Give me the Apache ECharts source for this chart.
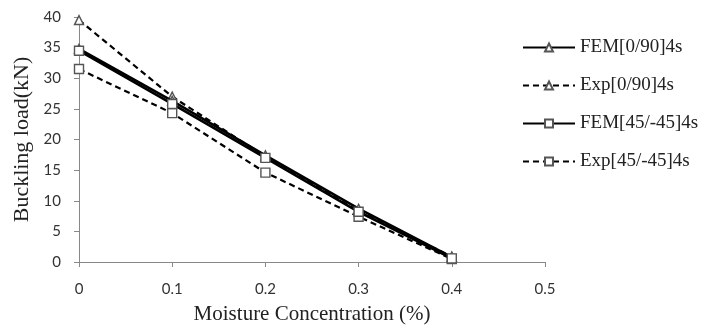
<!DOCTYPE html>
<html><head><meta charset="utf-8">
<script src="https://cdn.jsdelivr.net/npm/echarts@6/dist/echarts.min.js"></script>
<style>html,body{margin:0;padding:0;background:#fff}#c{width:705px;height:333px}</style>
</head><body><div id="c"></div>
<script>
const xValues = [0, 0.1, 0.2, 0.3, 0.4];
const fem090 = [34.8, 26.3, 17.4, 8.7, 0.8];
const exp090 = [39.5, 27.0, 17.2, 8.3, 0.9];
const fem45 = [34.5, 25.8, 17.0, 8.2, 0.6];
const exp45 = [31.5, 24.3, 14.6, 7.4, 0.5];
const seriesNames = ['FEM[0/90]4s', 'Exp[0/90]4s', 'FEM[45/-45]4s', 'Exp[45/-45]4s'];

function pts(arr){ return xValues.map((x,i)=>[x, arr[i]]); }
function mk(name, data, sym, dashed){
  return {
    name, type:'line', data: pts(data), symbol: sym, symbolSize: 9,
    showSymbol:true,
    lineStyle:{color:'#000', width: dashed?2.2:2.6, type: dashed?[6,4]:'solid'},
    itemStyle:{color:'#fff', borderColor:'#555', borderWidth:1.4},
    z: dashed?2:3
  };
}
const chart = echarts.init(document.getElementById('c'));
chart.setOption({
  animation:false,
  grid:{left:79, right:160, top:17, bottom:71},
  xAxis:{type:'value', min:0, max:0.5, interval:0.1,
    name:'Moisture Concentration (%)', nameLocation:'middle', nameGap:42, nameMoveOverlap:false,
    nameTextStyle:{fontFamily:'Liberation Serif', fontSize:21, color:'#222'},
    axisLine:{lineStyle:{color:'#888'}}, axisTick:{show:true, length:5, lineStyle:{color:'#888'}},
    axisLabel:{fontFamily:'Lato', fontSize:15, color:'#333', margin:20},
    splitLine:{show:false}},
  yAxis:{type:'value', min:0, max:40, interval:5,
    name:'Buckling load(kN)', nameLocation:'middle', nameGap:46, nameMoveOverlap:false,
    nameTextStyle:{fontFamily:'Liberation Serif', fontSize:22, color:'#222'},
    axisLine:{show:true, lineStyle:{color:'#888'}}, axisTick:{show:true, length:5, lineStyle:{color:'#888'}},
    axisLabel:{fontFamily:'Lato', fontSize:15, color:'#333', margin:18},
    splitLine:{show:false}},
  legend:{orient:'vertical', left:517, top:33, itemGap:19, itemWidth:52, itemHeight:10,
    data: seriesNames,
    textStyle:{fontFamily:'Liberation Serif', fontSize:19, color:'#222'}},
  series:[
    mk(seriesNames[0], fem090, 'triangle', false),
    mk(seriesNames[1], exp090, 'triangle', true),
    mk(seriesNames[2], fem45, 'rect', false),
    mk(seriesNames[3], exp45, 'rect', true)
  ]
});
</script></body></html>
